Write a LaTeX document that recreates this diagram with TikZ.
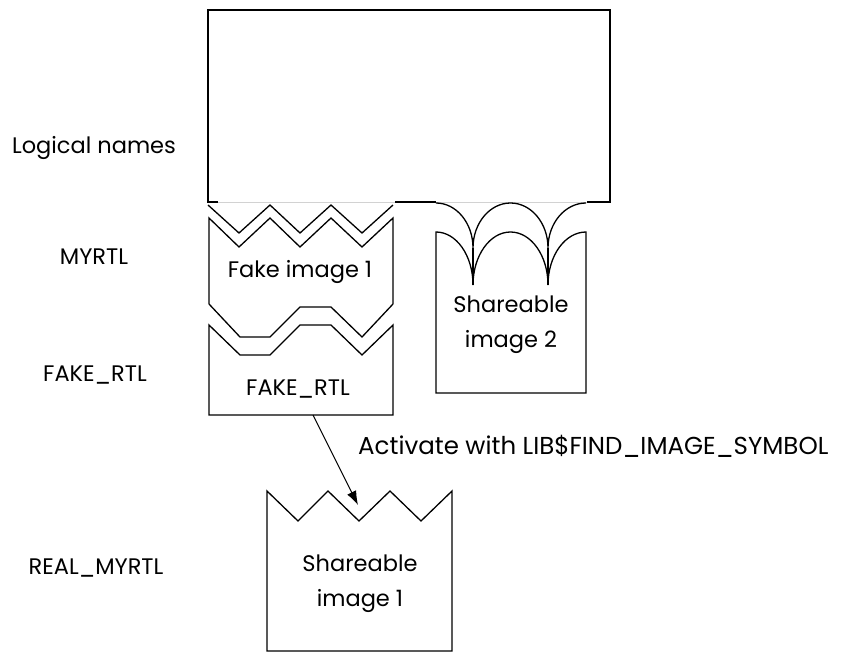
\documentclass[tikz,border=0pt]{standalone}
\usepackage{fontspec}
\setmainfont{Poppins}
\usetikzlibrary{positioning,arrows.meta}

\begin{document}
\begin{tikzpicture}[x=1pt, y=-1pt,
    outline/.style={draw, line width=1.3pt, line join=miter},
    seam/.style={draw=gray!35, line width=1pt},
    tag/.style={font=\fontsize{22.5}{35}\selectfont, align=center, inner sep=0pt},
    arrow/.style={-{Latex[length=14pt,width=10pt]}, line width=1.1pt}
]
\useasboundingbox (0,0) rectangle (841,654);

% logical name table
\draw[outline] (218,202) -- (208,202) -- (208,10) -- (610,10) -- (610,202) -- (587,202);
\draw[outline] (395,202) -- (436,202);
\draw[seam] (218,202) -- (395,202);
\draw[seam] (436,202) -- (587,202);

% fake image 1
\draw[outline] (208,205) -- (239,233) -- (270,205) -- (300,233) -- (331,205) -- (362,233) -- (393,205);
\draw[outline] (209,304) -- (209,218) -- (239,247) -- (270,218) -- (300,247) -- (331,218) -- (362,247) -- (393,218) -- (393,304);
\draw[outline] (209,304) -- (240,337) -- (270,337) -- (300,307) -- (331,307) -- (362,337) -- (393,304);

% FAKE_RTL
\draw[outline] (209,325) -- (240,355) -- (270,355) -- (300,325) -- (331,325) -- (362,355) -- (393,325)
    -- (393,415) -- (209,415) -- cycle;

% shareable image 2
\draw[outline] (436,203) arc[start angle=270, end angle=360, x radius=37, y radius=45]
    arc[start angle=180, end angle=360, x radius=37.5, y radius=45]
    arc[start angle=180, end angle=270, x radius=38, y radius=45];
\draw[outline] (473,248) -- (473,285);
\draw[outline] (548,248) -- (548,285);
\draw[outline] (586,393) -- (436,393) -- (436,232)
    arc[start angle=270, end angle=360, x radius=37, y radius=53]
    arc[start angle=180, end angle=360, x radius=37.5, y radius=53]
    arc[start angle=180, end angle=270, x radius=38, y radius=53] -- cycle;

% shareable image 1
\draw[outline] (267,491) -- (298,521) -- (328,491) -- (359,521) -- (390,491) -- (421,521) -- (452,491)
    -- (452,651) -- (267,651) -- cycle;

% texts
\node[tag] (logical) at (94,148) {Logical names};
\node[tag] (myrtl) at (94,257) {MYRTL};
\node[tag] (fakertl) at (95,375) {FAKE\_RTL};
\node[tag] (realmyrtl) at (96,568) {REAL\_MYRTL};

\node[tag] (fake1) at (300,272) {Fake image 1};
\node[tag] (fakebox) at (298,389) {FAKE\_RTL};
\node[tag] (share2) at (511,325) {Shareable\\image 2};
\node[tag] (share1) at (360,584) {Shareable\\image 1};

\coordinate (fakeout) at (313,415);
\coordinate (realin) at (358,505);
\draw[arrow] (fakeout) -- (realin);
\node[tag, font=\fontsize{24.5}{30}\selectfont, anchor=west] (activate) at (358,446) {Activate with LIB\$FIND\_IMAGE\_SYMBOL};

\end{tikzpicture}
\end{document}
